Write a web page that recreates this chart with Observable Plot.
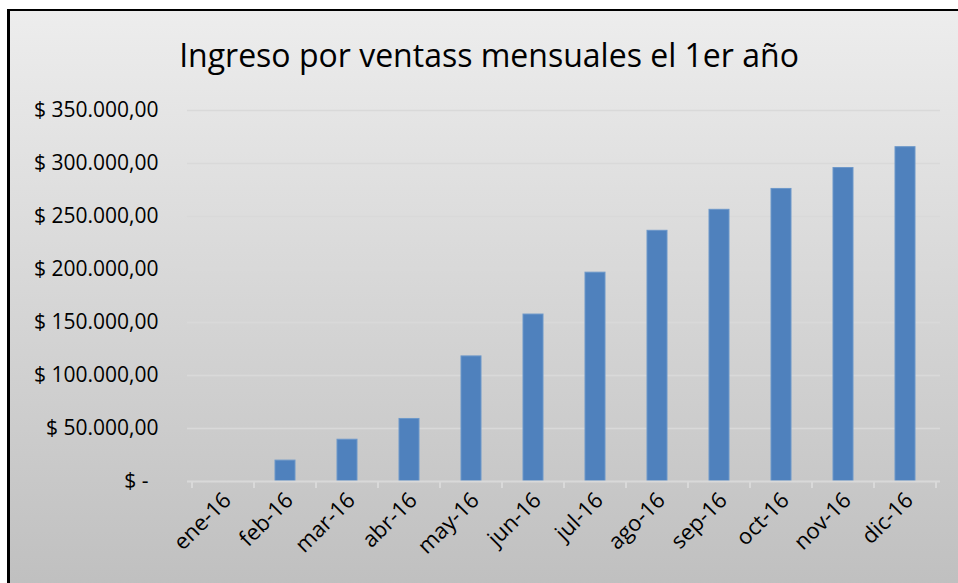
<!DOCTYPE html>
<html><head><meta charset="utf-8">
<script src="https://cdn.jsdelivr.net/npm/d3@7"></script>
<script src="https://cdn.jsdelivr.net/npm/@observablehq/plot@0.6"></script>
<style>
html,body{margin:0;padding:0;background:#fff;width:958px;height:583px;overflow:hidden;}
#frame{position:absolute;left:7px;top:9px;width:1000px;height:620px;border-left:3px solid #000;border-top:2px solid #000;background:linear-gradient(to bottom,#ededed 0%,#bcbcbc 100%);}
#title{position:absolute;left:0;top:35px;width:978px;text-align:center;font-family:"Open Sans",sans-serif;font-size:32px;line-height:40px;color:#000;}
#chart{position:absolute;left:0;top:0;}
</style></head>
<body>
<div id="frame"></div>
<div id="title">Ingreso por ventass mensuales el 1er año</div>
<div id="chart"></div>
<script>
const months = ["ene-16","feb-16","mar-16","abr-16","may-16","jun-16","jul-16","ago-16","sep-16","oct-16","nov-16","dic-16"];
const ingresos = [0, 19700, 39400, 59000, 118000, 157500, 197000, 236500, 256300, 276000, 295700, 315400];
const yTicks = [0, 50000, 100000, 150000, 200000, 250000, 300000, 350000];

const data = months.map((m, i) => ({mes: m, ingreso: ingresos[i]}));
const loc = d3.formatLocale({decimal: ",", thousands: ".", grouping: [3], currency: ["$", ""]});
const num = loc.format(",.2f");
const fmt = d => d === 0 ? "$ -" : "$ " + num(d);

function boundaryTicks(index, scales) {
  const x = scales.x, y = scales.y;
  const step = x(months[1]) - x(months[0]);
  const bw = x.bandwidth ? x.bandwidth() : 0;
  const y0 = y(0);
  const g = d3.create("svg:g").attr("stroke", "#d9d9d9").attr("stroke-width", 2);
  for (let i = 0; i <= months.length; i++) {
    const cx = i < months.length ? x(months[i]) + bw / 2 - step / 2 : x(months[i - 1]) + bw / 2 + step / 2;
    g.append("line").attr("x1", cx).attr("x2", cx).attr("y1", y0).attr("y2", y0 + 7);
  }
  return g.node();
}

const chart = Plot.plot({
  width: 958, height: 583,
  marginLeft: 187, marginRight: 18, marginTop: 110, marginBottom: 102,
  style: {background: "transparent", fontFamily: "'Open Sans', sans-serif", fontSize: "21px", color: "#000", overflow: "visible"},
  x: {domain: months, paddingInner: 0.68, paddingOuter: 0.34, label: null},
  y: {domain: [0, 350000], label: null},
  marks: [
    Plot.ruleY(yTicks.filter(d => d > 0), {stroke: "#d9d9d9", strokeWidth: 1.5}),
    Plot.barY(data, {x: "mes", y: "ingreso", fill: "#4f81bd", stroke: "#6c97c9", strokeWidth: 1}),
    Plot.ruleY([0], {stroke: "#d9d9d9", strokeWidth: 2}),
    boundaryTicks,
    Plot.axisY(yTicks.filter(d => d > 0), {tickSize: 0, tickPadding: 29, tickFormat: fmt, fontSize: 21, label: null}),
    Plot.axisY([0], {tickSize: 0, tickPadding: 39, tickFormat: fmt, fontSize: 21, label: null}),
    Plot.axisX({tickSize: 0, tickRotate: -45, tickPadding: 15, dx: 4, fontSize: 22, label: null})
  ]
});
document.getElementById("chart").appendChild(chart);
</script>
</body></html>
